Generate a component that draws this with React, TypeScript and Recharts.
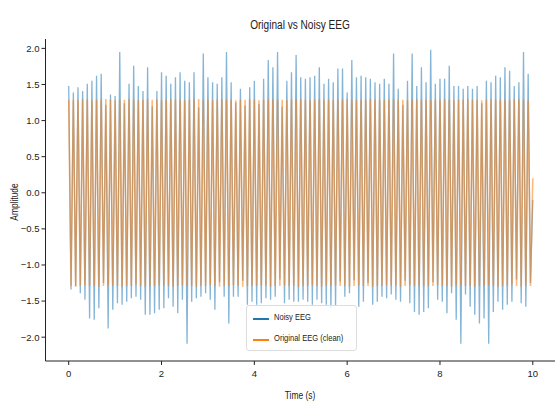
import { LineChart, Line, XAxis, YAxis } from 'recharts';

// one peak and one trough per 0.1 s cycle
const noisyPeaks = [
    1.48, 1.39, 1.46, 1.41, 1.51, 1.55, 1.62, 1.65, 1.22, 1.36,
    1.34, 1.95, 1.24, 1.51, 1.76, 1.48, 1.41, 1.74, 1.20, 1.41,
    1.67, 1.62, 1.51, 1.60, 1.67, 1.55, 1.53, 1.67, 1.18, 1.93,
    1.60, 1.53, 1.51, 1.60, 1.95, 1.53, 1.25, 1.44, 1.21, 1.46,
    1.55, 1.23, 1.58, 1.84, 1.74, 1.95, 1.19, 1.55, 1.67, 1.91,
    1.60, 1.58, 1.60, 1.62, 1.74, 1.51, 1.58, 1.53, 1.72, 1.72,
    1.39, 1.84, 1.60, 1.62, 1.60, 1.58, 1.53, 1.51, 1.58, 1.51,
    1.93, 1.44, 1.22, 1.55, 1.93, 1.48, 1.74, 1.53, 1.98, 1.51,
    1.58, 1.58, 1.76, 1.48, 1.48, 1.44, 1.48, 1.44, 1.48, 1.24,
    1.55, 1.53, 1.62, 1.60, 1.74, 1.69, 1.48, 1.53, 1.95, 1.65,
];
const noisyTroughs = [
    -1.34, -1.29, -1.39, -1.48, -1.74, -1.76, -1.60, -1.25, -1.88, -1.62,
    -1.53, -1.55, -1.51, -1.46, -1.44, -1.48, -1.69, -1.69, -1.67, -1.62,
    -1.60, -1.46, -1.58, -1.67, -1.48, -2.09, -1.51, -1.46, -1.44, -1.39,
    -1.48, -1.62, -1.24, -1.44, -1.81, -1.44, -1.44, -1.22, -1.55, -1.51,
    -1.55, -1.53, -1.46, -1.48, -1.44, -1.20, -1.53, -1.48, -1.51, -1.51,
    -1.48, -1.51, -1.55, -1.48, -1.53, -1.55, -1.60, -1.58, -1.23, -1.44,
    -1.39, -1.21, -1.58, -1.51, -1.25, -1.55, -1.51, -1.44, -1.46, -1.41,
    -1.48, -1.51, -1.22, -1.53, -1.65, -1.69, -1.65, -1.60, -1.24, -1.48,
    -1.51, -1.67, -1.39, -1.76, -2.09, -1.41, -1.58, -1.69, -1.81, -1.74,
    -2.09, -1.65, -1.51, -1.62, -1.55, -1.51, -1.20, -1.53, -1.58, -1.25,
];
const cleanPeaks = [
    1.29, 1.28, 1.29, 1.30, 1.29, 1.28, 1.29, 1.29, 1.30, 1.29,
    1.28, 1.29, 1.29, 1.30, 1.29, 1.28, 1.29, 1.30, 1.29, 1.29,
    1.28, 1.29, 1.30, 1.29, 1.29, 1.28, 1.29, 1.29, 1.30, 1.29,
    1.29, 1.28, 1.29, 1.30, 1.29, 1.29, 1.28, 1.29, 1.29, 1.30,
    1.29, 1.28, 1.29, 1.29, 1.30, 1.29, 1.29, 1.28, 1.29, 1.30,
    1.29, 1.29, 1.28, 1.29, 1.30, 1.29, 1.29, 1.28, 1.29, 1.29,
    1.30, 1.29, 1.28, 1.29, 1.29, 1.30, 1.29, 1.28, 1.29, 1.29,
    1.30, 1.29, 1.29, 1.28, 1.29, 1.30, 1.29, 1.29, 1.28, 1.29,
    1.29, 1.30, 1.29, 1.28, 1.29, 1.29, 1.30, 1.29, 1.29, 1.28,
    1.29, 1.30, 1.29, 1.29, 1.28, 1.29, 1.30, 1.29, 1.29, 1.28,
];
const cleanTroughs = [
    -1.29, -1.30, -1.29, -1.28, -1.29, -1.29, -1.30, -1.29, -1.28, -1.29,
    -1.29, -1.30, -1.29, -1.29, -1.28, -1.29, -1.30, -1.29, -1.29, -1.28,
    -1.29, -1.29, -1.30, -1.29, -1.28, -1.29, -1.29, -1.30, -1.29, -1.29,
    -1.28, -1.29, -1.30, -1.29, -1.29, -1.28, -1.29, -1.30, -1.29, -1.29,
    -1.29, -1.28, -1.29, -1.30, -1.29, -1.29, -1.28, -1.29, -1.29, -1.30,
    -1.29, -1.29, -1.28, -1.29, -1.30, -1.29, -1.29, -1.28, -1.29, -1.29,
    -1.30, -1.29, -1.28, -1.29, -1.29, -1.30, -1.29, -1.29, -1.28, -1.29,
    -1.29, -1.30, -1.29, -1.28, -1.29, -1.29, -1.30, -1.29, -1.29, -1.28,
    -1.29, -1.29, -1.30, -1.29, -1.28, -1.29, -1.29, -1.30, -1.29, -1.29,
    -1.28, -1.29, -1.30, -1.29, -1.29, -1.28, -1.29, -1.30, -1.29, -1.29,
];
const noisyEnd = -0.1;
const cleanEnd = 0.2;
const cycle = 0.1; // seconds between peaks

const xTicks = [0, 2, 4, 6, 8, 10];
const yTicks = [-2, -1.5, -1, -0.5, 0, 0.5, 1, 1.5, 2];

const data: Array<{ t: number; noisy: number; clean: number }> = [];
noisyPeaks.forEach((p, k) => {
    data.push({ t: +(k * cycle).toFixed(3), noisy: p, clean: cleanPeaks[k] });
    data.push({ t: +(k * cycle + cycle / 2).toFixed(3), noisy: noisyTroughs[k], clean: cleanTroughs[k] });
});
data.push({ t: noisyPeaks.length * cycle, noisy: noisyEnd, clean: cleanEnd });

const FONT = "'Liberation Sans', Arial, sans-serif";
const BLUE = '#1f77b4';
const ORANGE = '#ff7f0e';
const narrow = { transform: 'scaleX(0.84)', transformOrigin: 'left center', whiteSpace: 'nowrap' as const };

const fmtY = (v: number) => (v < 0 ? '\u2212' + Math.abs(v).toFixed(1) : v.toFixed(1));

export default function App() {
    return (
        <div style={{ position: 'relative', width: 555, height: 404, overflow: 'hidden', background: '#fff', fontFamily: FONT }}>
            <style>{'body{margin:0}'}</style>
            <LineChart width={556} height={404} data={data} margin={{ top: 39, right: 0, bottom: 0, left: 0 }}>
                <XAxis xAxisId="top" orientation="top" dataKey="t" type="number" domain={[-0.5, 10.5]}
                    height={0} tick={false} tickLine={false} axisLine={{ stroke: '#333', strokeWidth: 1 }} />
                <XAxis dataKey="t" type="number" domain={[-0.5, 10.5]} ticks={xTicks} allowDataOverflow
                    height={43} tickSize={4} tickMargin={5}
                    axisLine={{ stroke: '#222', strokeWidth: 1 }} tickLine={{ stroke: '#222' }}
                    tick={{ fontSize: 9.5, fill: '#222', fontFamily: FONT }} />
                <YAxis domain={[-2.33, 2.13]} ticks={yTicks} allowDataOverflow width={45.5}
                    tickSize={4} tickMargin={2} tickFormatter={fmtY}
                    axisLine={{ stroke: '#222', strokeWidth: 1 }} tickLine={{ stroke: '#222' }}
                    tick={{ fontSize: 9.5, fill: '#222', fontFamily: FONT }} />
                <Line type="linear" dataKey="noisy" stroke={BLUE} strokeOpacity={0.55} strokeWidth={1.3}
                    dot={false} isAnimationActive={false} />
                <Line type="linear" dataKey="clean" stroke={ORANGE} strokeOpacity={0.55} strokeWidth={1.6}
                    dot={false} isAnimationActive={false} />
            </LineChart>
            <div style={{ position: 'absolute', left: 300, top: 18, fontSize: 12, color: '#222', transform: 'translateX(-50%) scaleX(0.84)', whiteSpace: 'nowrap' }}>
                Original vs Noisy EEG
            </div>
            <div style={{ position: 'absolute', left: 300, top: 390, fontSize: 10, color: '#222', transform: 'translateX(-50%) scaleX(0.84)', whiteSpace: 'nowrap' }}>
                Time (s)
            </div>
            <div style={{ position: 'absolute', left: 14, top: 202, fontSize: 10, color: '#222', transform: 'translate(-50%, -50%) rotate(-90deg) scaleX(0.84)', whiteSpace: 'nowrap' }}>
                Amplitude
            </div>
            <div style={{
                position: 'absolute', left: 246, top: 305, width: 111, height: 46, boxSizing: 'border-box',
                background: 'rgba(255,255,255,0.8)', border: '1px solid #ddd', borderRadius: 3, fontSize: 9, color: '#222',
            }}>
                <div style={{ position: 'absolute', left: 6, top: 12, width: 16, height: 1.5, background: BLUE }} />
                <div style={{ position: 'absolute', left: 27, top: 6, ...narrow }}>Noisy EEG</div>
                <div style={{ position: 'absolute', left: 6, top: 33, width: 16, height: 1.5, background: ORANGE }} />
                <div style={{ position: 'absolute', left: 27, top: 27, ...narrow }}>Original EEG (clean)</div>
            </div>
        </div>
    );
}
